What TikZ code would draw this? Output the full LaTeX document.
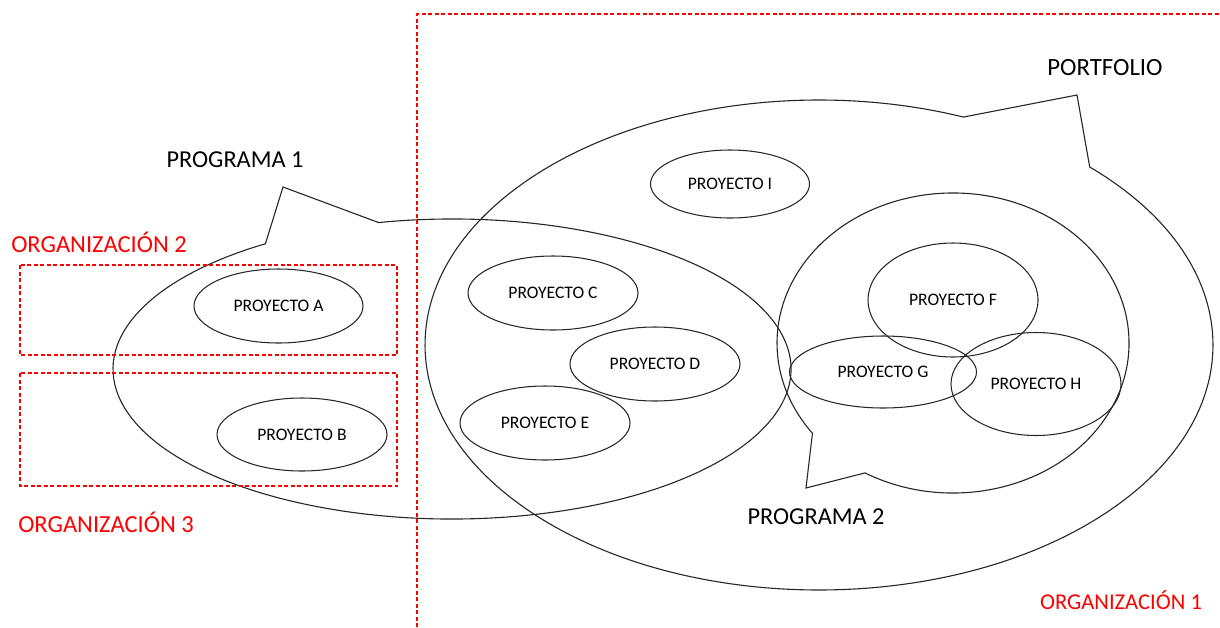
\documentclass[tikz,border=0pt]{standalone}
\usepackage{fontspec}
\setmainfont{Carlito}
\usetikzlibrary{calc,shapes.geometric}
\begin{document}
\begin{tikzpicture}[x=1pt,y=-1pt,
  outline/.style={draw=black!85, line width=1.1pt, line join=miter},
  proj/.style={draw=black!85, ellipse, line width=1.05pt, inner sep=0pt, font=\fontsize{17.6}{17.6}\selectfont},
  biglabel/.style={inner sep=0pt, font=\fontsize{24.3}{24.3}\selectfont},
  orglabel/.style={inner sep=0pt, text=red, font=\fontsize{24.5}{24.5}\selectfont},
  orgline/.style={draw=red, line width=1.2pt, dash pattern=on 4pt off 2.5pt}]
\useasboundingbox (0,0) rectangle (1220,627);

% PORTFOLIO callout
\coordinate (pfc) at (819,345);
\coordinate (pftip) at (1077,95);
\draw[outline] ($(pfc)+(291.5:394 and 245)$) -- (pftip) -- ($(pfc)+(-46.6:394 and 245)$)
  arc[start angle=-46.6, end angle=291.5, x radius=394, y radius=245] -- cycle;

% PROGRAMA 1 callout
\coordinate (p1c) at (452,369);
\coordinate (p1tip) at (283,187);
\draw[outline] ($(p1c)+(236.6:339 and 150)$) -- (p1tip) -- ($(p1c)+(257.5:339 and 150)$)
  arc[start angle=257.5, end angle=596.6, x radius=339, y radius=150] -- cycle;

% PROGRAMA 2 callout
\coordinate (p2c) at (953,343);
\coordinate (p2tip) at (806,488);
\draw[outline] ($(p2c)+(143:176 and 150)$) -- (p2tip) -- ($(p2c)+(120:176 and 150)$)
  arc[start angle=120, end angle=-217, x radius=176, y radius=150] -- cycle;

% projects
\node[proj, minimum width=169pt, minimum height=74pt] (pa) at (278.5,306) {PROYECTO A};
\node[proj, minimum width=170pt, minimum height=73pt] (pb) at (302,434.5) {PROYECTO B};
\node[proj, minimum width=170pt, minimum height=74pt] (pc) at (553,293) {PROYECTO C};
\node[proj, minimum width=170pt, minimum height=74pt] (pd) at (655,364) {PROYECTO D};
\node[proj, minimum width=170pt, minimum height=74pt] (pe) at (545,423) {PROYECTO E};
\node[proj, minimum width=159pt, minimum height=68pt] (pi) at (730,184) {PROYECTO I};
\node[proj, minimum width=170pt, minimum height=114pt] (pf) at (953,300) {PROYECTO F};
\node[proj, minimum width=187pt, minimum height=72pt] (pg) at (883,372) {PROYECTO G};
\node[proj, minimum width=170pt, minimum height=103pt] (ph) at (1036,384) {PROYECTO H};

% black labels
\node[biglabel] (lp1) at (235,160) {PROGRAMA 1};
\node[biglabel, font=\fontsize{24.8}{24.8}\selectfont] (lpf) at (1105,68) {PORTFOLIO};
\node[biglabel] (lp2) at (816,517) {PROGRAMA 2};

% organisations
\coordinate (o2a) at (20,265);
\coordinate (o2b) at (397,355);
\draw[orgline] (o2a) rectangle (o2b);
\coordinate (o3a) at (20,373);
\coordinate (o3b) at (397,486);
\draw[orgline] (o3a) rectangle (o3b);
\coordinate (o1a) at (417,627);
\coordinate (o1b) at (417,14);
\coordinate (o1c) at (1220,14);
\draw[orgline] (o1a) -- (o1b) -- (o1c);

\node[orglabel] (lo2) at (99,242) {ORGANIZACIÓN 2};
\node[orglabel] (lo3) at (106,522) {ORGANIZACIÓN 3};
\node[orglabel, font=\fontsize{22.6}{22.6}\selectfont] (lo1) at (1121,600) {ORGANIZACIÓN 1};
\end{tikzpicture}
\end{document}
